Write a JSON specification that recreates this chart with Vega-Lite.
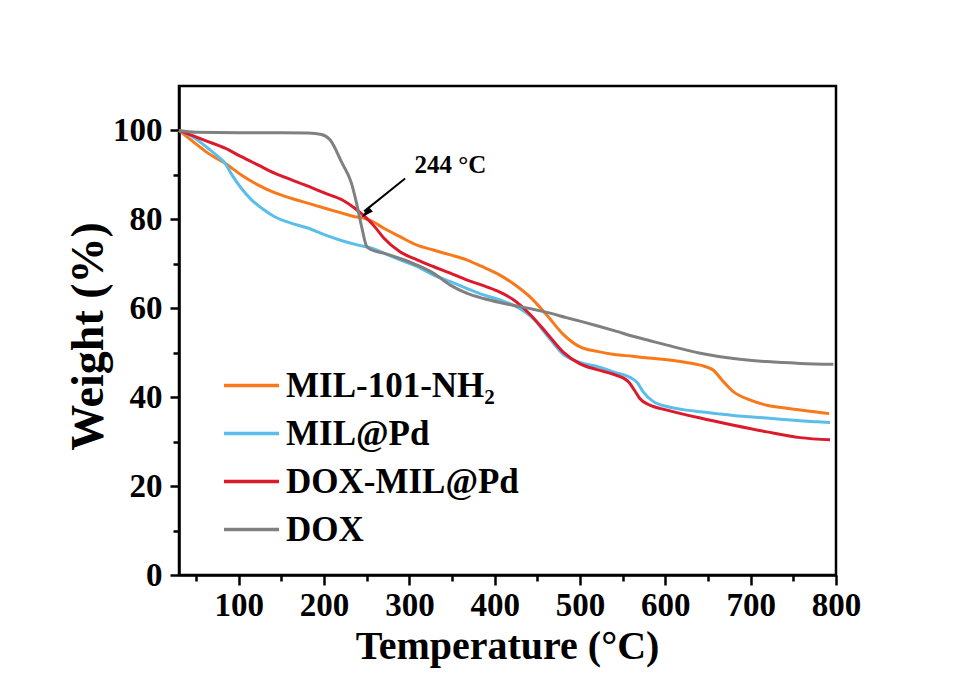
{
  "$schema": "https://vega.github.io/schema/vega-lite/v6.json",
  "width": 657,
  "height": 489,
  "autosize": "none",
  "padding": {"left": 179, "top": 86, "right": 118, "bottom": 105},
  "background": "white",
  "config": {
    "view": {"stroke": "black", "strokeWidth": 2.5},
    "font": "Liberation Serif"
  },
  "datasets": {
    "tga": [
      {"T": 30, "W": 100, "s": "MIL-101-NH₂"},
      {"T": 49, "W": 97.1, "s": "MIL-101-NH₂"},
      {"T": 64, "W": 94.9, "s": "MIL-101-NH₂"},
      {"T": 84, "W": 92.6, "s": "MIL-101-NH₂"},
      {"T": 103, "W": 90, "s": "MIL-101-NH₂"},
      {"T": 123, "W": 87.7, "s": "MIL-101-NH₂"},
      {"T": 142, "W": 86, "s": "MIL-101-NH₂"},
      {"T": 162, "W": 84.7, "s": "MIL-101-NH₂"},
      {"T": 182, "W": 83.6, "s": "MIL-101-NH₂"},
      {"T": 201, "W": 82.5, "s": "MIL-101-NH₂"},
      {"T": 221, "W": 81.4, "s": "MIL-101-NH₂"},
      {"T": 236, "W": 80.6, "s": "MIL-101-NH₂"},
      {"T": 248, "W": 80.2, "s": "MIL-101-NH₂"},
      {"T": 258, "W": 79.4, "s": "MIL-101-NH₂"},
      {"T": 270, "W": 78, "s": "MIL-101-NH₂"},
      {"T": 289, "W": 76.1, "s": "MIL-101-NH₂"},
      {"T": 309, "W": 74.2, "s": "MIL-101-NH₂"},
      {"T": 328, "W": 73.1, "s": "MIL-101-NH₂"},
      {"T": 348, "W": 72, "s": "MIL-101-NH₂"},
      {"T": 367, "W": 70.9, "s": "MIL-101-NH₂"},
      {"T": 385, "W": 69.4, "s": "MIL-101-NH₂"},
      {"T": 403, "W": 67.8, "s": "MIL-101-NH₂"},
      {"T": 422, "W": 65.5, "s": "MIL-101-NH₂"},
      {"T": 441, "W": 62.6, "s": "MIL-101-NH₂"},
      {"T": 461, "W": 58.5, "s": "MIL-101-NH₂"},
      {"T": 480, "W": 54.2, "s": "MIL-101-NH₂"},
      {"T": 500, "W": 51.3, "s": "MIL-101-NH₂"},
      {"T": 520, "W": 50.3, "s": "MIL-101-NH₂"},
      {"T": 540, "W": 49.6, "s": "MIL-101-NH₂"},
      {"T": 562, "W": 49.2, "s": "MIL-101-NH₂"},
      {"T": 580, "W": 48.8, "s": "MIL-101-NH₂"},
      {"T": 602, "W": 48.4, "s": "MIL-101-NH₂"},
      {"T": 621, "W": 47.9, "s": "MIL-101-NH₂"},
      {"T": 641, "W": 47.2, "s": "MIL-101-NH₂"},
      {"T": 656, "W": 46.1, "s": "MIL-101-NH₂"},
      {"T": 668, "W": 43.5, "s": "MIL-101-NH₂"},
      {"T": 680, "W": 41.2, "s": "MIL-101-NH₂"},
      {"T": 699, "W": 39.4, "s": "MIL-101-NH₂"},
      {"T": 719, "W": 38.2, "s": "MIL-101-NH₂"},
      {"T": 738, "W": 37.6, "s": "MIL-101-NH₂"},
      {"T": 758, "W": 37.1, "s": "MIL-101-NH₂"},
      {"T": 775, "W": 36.7, "s": "MIL-101-NH₂"},
      {"T": 792, "W": 36.3, "s": "MIL-101-NH₂"},

      {"T": 30, "W": 100, "s": "MIL@Pd"},
      {"T": 49, "W": 98.2, "s": "MIL@Pd"},
      {"T": 64, "W": 96, "s": "MIL@Pd"},
      {"T": 76, "W": 94.1, "s": "MIL@Pd"},
      {"T": 84, "W": 92.6, "s": "MIL@Pd"},
      {"T": 92, "W": 90, "s": "MIL@Pd"},
      {"T": 103, "W": 87, "s": "MIL@Pd"},
      {"T": 115, "W": 84.4, "s": "MIL@Pd"},
      {"T": 127, "W": 82.5, "s": "MIL@Pd"},
      {"T": 142, "W": 80.6, "s": "MIL@Pd"},
      {"T": 162, "W": 79.1, "s": "MIL@Pd"},
      {"T": 182, "W": 78, "s": "MIL@Pd"},
      {"T": 201, "W": 76.5, "s": "MIL@Pd"},
      {"T": 221, "W": 75.2, "s": "MIL@Pd"},
      {"T": 240, "W": 74.2, "s": "MIL@Pd"},
      {"T": 256, "W": 73.5, "s": "MIL@Pd"},
      {"T": 270, "W": 72.4, "s": "MIL@Pd"},
      {"T": 289, "W": 70.9, "s": "MIL@Pd"},
      {"T": 309, "W": 69.4, "s": "MIL@Pd"},
      {"T": 328, "W": 67.5, "s": "MIL@Pd"},
      {"T": 348, "W": 66, "s": "MIL@Pd"},
      {"T": 367, "W": 64.5, "s": "MIL@Pd"},
      {"T": 387, "W": 63, "s": "MIL@Pd"},
      {"T": 406, "W": 61.9, "s": "MIL@Pd"},
      {"T": 426, "W": 60.3, "s": "MIL@Pd"},
      {"T": 445, "W": 57.7, "s": "MIL@Pd"},
      {"T": 461, "W": 54, "s": "MIL@Pd"},
      {"T": 480, "W": 49.7, "s": "MIL@Pd"},
      {"T": 500, "W": 47.8, "s": "MIL@Pd"},
      {"T": 520, "W": 46.9, "s": "MIL@Pd"},
      {"T": 539, "W": 45.7, "s": "MIL@Pd"},
      {"T": 559, "W": 44.4, "s": "MIL@Pd"},
      {"T": 567, "W": 43.3, "s": "MIL@Pd"},
      {"T": 574, "W": 41.2, "s": "MIL@Pd"},
      {"T": 586, "W": 39, "s": "MIL@Pd"},
      {"T": 602, "W": 37.9, "s": "MIL@Pd"},
      {"T": 621, "W": 37.2, "s": "MIL@Pd"},
      {"T": 641, "W": 36.7, "s": "MIL@Pd"},
      {"T": 660, "W": 36.3, "s": "MIL@Pd"},
      {"T": 680, "W": 35.9, "s": "MIL@Pd"},
      {"T": 699, "W": 35.6, "s": "MIL@Pd"},
      {"T": 719, "W": 35.3, "s": "MIL@Pd"},
      {"T": 738, "W": 35, "s": "MIL@Pd"},
      {"T": 758, "W": 34.7, "s": "MIL@Pd"},
      {"T": 775, "W": 34.5, "s": "MIL@Pd"},
      {"T": 793, "W": 34.3, "s": "MIL@Pd"},

      {"T": 30, "W": 100, "s": "DOX-MIL@Pd"},
      {"T": 49, "W": 98.6, "s": "DOX-MIL@Pd"},
      {"T": 64, "W": 97.5, "s": "DOX-MIL@Pd"},
      {"T": 84, "W": 96, "s": "DOX-MIL@Pd"},
      {"T": 103, "W": 94.1, "s": "DOX-MIL@Pd"},
      {"T": 123, "W": 92.2, "s": "DOX-MIL@Pd"},
      {"T": 142, "W": 90.4, "s": "DOX-MIL@Pd"},
      {"T": 162, "W": 88.9, "s": "DOX-MIL@Pd"},
      {"T": 182, "W": 87.4, "s": "DOX-MIL@Pd"},
      {"T": 201, "W": 85.9, "s": "DOX-MIL@Pd"},
      {"T": 221, "W": 84.4, "s": "DOX-MIL@Pd"},
      {"T": 236, "W": 82.5, "s": "DOX-MIL@Pd"},
      {"T": 248, "W": 80.6, "s": "DOX-MIL@Pd"},
      {"T": 260, "W": 78.2, "s": "DOX-MIL@Pd"},
      {"T": 270, "W": 75.8, "s": "DOX-MIL@Pd"},
      {"T": 289, "W": 72.7, "s": "DOX-MIL@Pd"},
      {"T": 309, "W": 70.9, "s": "DOX-MIL@Pd"},
      {"T": 328, "W": 69.4, "s": "DOX-MIL@Pd"},
      {"T": 348, "W": 67.9, "s": "DOX-MIL@Pd"},
      {"T": 367, "W": 66.4, "s": "DOX-MIL@Pd"},
      {"T": 385, "W": 65.2, "s": "DOX-MIL@Pd"},
      {"T": 403, "W": 63.9, "s": "DOX-MIL@Pd"},
      {"T": 422, "W": 61.9, "s": "DOX-MIL@Pd"},
      {"T": 441, "W": 58.7, "s": "DOX-MIL@Pd"},
      {"T": 461, "W": 54.4, "s": "DOX-MIL@Pd"},
      {"T": 480, "W": 50.2, "s": "DOX-MIL@Pd"},
      {"T": 500, "W": 47.5, "s": "DOX-MIL@Pd"},
      {"T": 520, "W": 46.2, "s": "DOX-MIL@Pd"},
      {"T": 540, "W": 45.1, "s": "DOX-MIL@Pd"},
      {"T": 556, "W": 43.6, "s": "DOX-MIL@Pd"},
      {"T": 564, "W": 41.5, "s": "DOX-MIL@Pd"},
      {"T": 570, "W": 39.7, "s": "DOX-MIL@Pd"},
      {"T": 582, "W": 38.2, "s": "DOX-MIL@Pd"},
      {"T": 602, "W": 37.1, "s": "DOX-MIL@Pd"},
      {"T": 641, "W": 35.3, "s": "DOX-MIL@Pd"},
      {"T": 680, "W": 33.7, "s": "DOX-MIL@Pd"},
      {"T": 719, "W": 32.2, "s": "DOX-MIL@Pd"},
      {"T": 758, "W": 30.9, "s": "DOX-MIL@Pd"},
      {"T": 793, "W": 30.4, "s": "DOX-MIL@Pd"},

      {"T": 30, "W": 100, "s": "DOX"},
      {"T": 50, "W": 99.6, "s": "DOX"},
      {"T": 100, "W": 99.5, "s": "DOX"},
      {"T": 150, "W": 99.5, "s": "DOX"},
      {"T": 181, "W": 99.4, "s": "DOX"},
      {"T": 197, "W": 99.1, "s": "DOX"},
      {"T": 207, "W": 97.9, "s": "DOX"},
      {"T": 221, "W": 92.7, "s": "DOX"},
      {"T": 232, "W": 88.2, "s": "DOX"},
      {"T": 238, "W": 83.7, "s": "DOX"},
      {"T": 244, "W": 78.4, "s": "DOX"},
      {"T": 250, "W": 73.9, "s": "DOX"},
      {"T": 256, "W": 73.1, "s": "DOX"},
      {"T": 270, "W": 72.4, "s": "DOX"},
      {"T": 289, "W": 71.2, "s": "DOX"},
      {"T": 309, "W": 69.7, "s": "DOX"},
      {"T": 328, "W": 67.9, "s": "DOX"},
      {"T": 348, "W": 65.2, "s": "DOX"},
      {"T": 367, "W": 63.4, "s": "DOX"},
      {"T": 387, "W": 62.2, "s": "DOX"},
      {"T": 406, "W": 61.3, "s": "DOX"},
      {"T": 426, "W": 60.5, "s": "DOX"},
      {"T": 445, "W": 59.8, "s": "DOX"},
      {"T": 465, "W": 58.9, "s": "DOX"},
      {"T": 484, "W": 57.9, "s": "DOX"},
      {"T": 500, "W": 57.1, "s": "DOX"},
      {"T": 523, "W": 55.9, "s": "DOX"},
      {"T": 543, "W": 54.8, "s": "DOX"},
      {"T": 562, "W": 53.7, "s": "DOX"},
      {"T": 582, "W": 52.7, "s": "DOX"},
      {"T": 602, "W": 51.7, "s": "DOX"},
      {"T": 641, "W": 49.9, "s": "DOX"},
      {"T": 680, "W": 48.7, "s": "DOX"},
      {"T": 719, "W": 48, "s": "DOX"},
      {"T": 758, "W": 47.6, "s": "DOX"},
      {"T": 797, "W": 47.4, "s": "DOX"}
    ],
    "note": [
      {"T0": 295, "W0": 89.2, "T": 247, "W": 81.8, "Ta": 249.4, "Wa": 81.4, "Tt": 306, "Wt": 90.4, "label": "244 °C"}
    ]
  },
  "layer": [
    {
      "data": {"name": "tga"},
      "mark": {"type": "line", "strokeWidth": 3, "interpolate": "monotone"},
      "encoding": {
        "x": {
          "field": "T",
          "type": "quantitative",
          "scale": {"domain": [30, 800], "nice": false, "zero": false},
          "axis": {
            "title": "Temperature (°C)",
            "titleFont": "Liberation Serif",
            "titleFontSize": 40,
            "titleFontWeight": "bold",
            "titleColor": "black",
            "titleX": 328,
            "titleY": 83,
            "titleBaseline": "alphabetic",
            "titleAnchor": "middle",
            "values": [50, 100, 150, 200, 250, 300, 350, 400, 450, 500, 550, 600, 650, 700, 750, 800],
            "labelExpr": "datum.value % 100 === 0 ? datum.label : ''",
            "format": "d",
            "grid": false,
            "domainColor": "black",
            "domainWidth": 2.5,
            "tickColor": "black",
            "tickWidth": 2.5,
            "tickSize": {"condition": {"test": "datum.value % 100 === 0", "value": 10}, "value": 6},
            "labelFont": "Liberation Serif",
            "labelFontSize": 33,
            "labelFontWeight": "bold",
            "labelColor": "black",
            "labelPadding": 4,
            "labelFlush": false,
            "labelOverlap": false
          }
        },
        "y": {
          "field": "W",
          "type": "quantitative",
          "scale": {"domain": [0, 110], "nice": false},
          "axis": {
            "title": "Weight (%)",
            "titleFont": "Liberation Serif",
            "titleFontSize": 46,
            "titleFontWeight": "bold",
            "titleColor": "black",
            "titleAngle": -90,
            "titleX": -77,
            "titleY": 250,
            "titleBaseline": "alphabetic",
            "titleAlign": "center",
            "values": [0, 10, 20, 30, 40, 50, 60, 70, 80, 90, 100],
            "labelExpr": "datum.value % 20 === 0 ? datum.label : ''",
            "format": "d",
            "grid": false,
            "domainColor": "black",
            "domainWidth": 2.5,
            "tickColor": "black",
            "tickWidth": 2.5,
            "tickSize": {"condition": {"test": "datum.value % 20 === 0", "value": 9}, "value": 6},
            "labelFont": "Liberation Serif",
            "labelFontSize": 33,
            "labelFontWeight": "bold",
            "labelColor": "black",
            "labelPadding": 8,
            "labelFlush": false,
            "labelOverlap": false
          }
        },
        "color": {
          "field": "s",
          "type": "nominal",
          "scale": {
            "domain": ["MIL-101-NH₂", "MIL@Pd", "DOX-MIL@Pd", "DOX"],
            "range": ["#F8781A", "#5ABEEA", "#DC1A2C", "#808080"]
          },
          "legend": {
            "orient": "none",
            "legendX": 43,
            "legendY": 270,
            "title": null,
            "padding": 0,
            "symbolType": "stroke",
            "symbolSize": 3025,
            "symbolStrokeWidth": 3.5,
            "labelFont": "Liberation Serif",
            "labelFontSize": 35,
            "labelFontWeight": "bold",
            "labelColor": "black",
            "labelOffset": 5,
            "labelLimit": 400,
            "rowPadding": 0
          }
        }
      }
    },
    {
      "data": {"name": "note"},
      "mark": {"type": "rule", "color": "black", "strokeWidth": 2},
      "encoding": {
        "x": {"field": "T0", "type": "quantitative"},
        "y": {"field": "W0", "type": "quantitative"},
        "x2": {"field": "T"},
        "y2": {"field": "W"}
      }
    },
    {
      "data": {"name": "note"},
      "mark": {"type": "point", "shape": "M0,-1L0.55,1L-0.55,1Z", "filled": true, "color": "black", "opacity": 1, "size": 144, "angle": 228},
      "encoding": {
        "x": {"field": "Ta", "type": "quantitative"},
        "y": {"field": "Wa", "type": "quantitative"}
      }
    },
    {
      "data": {"name": "note"},
      "mark": {"type": "text", "font": "Liberation Serif", "fontSize": 25, "fontWeight": "bold", "color": "black", "align": "left", "baseline": "alphabetic"},
      "encoding": {
        "x": {"field": "Tt", "type": "quantitative"},
        "y": {"field": "Wt", "type": "quantitative"},
        "text": {"field": "label"}
      }
    }
  ]
}
